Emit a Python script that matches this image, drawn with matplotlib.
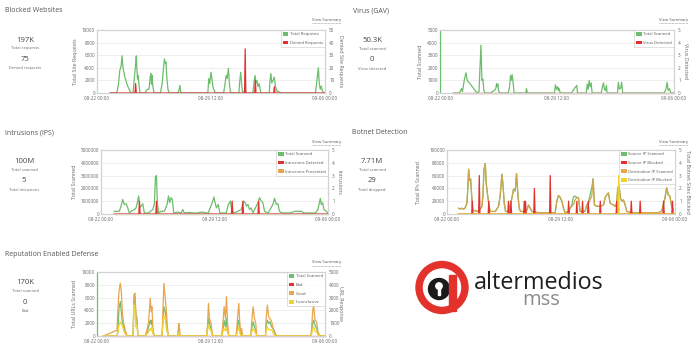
import numpy as np
import matplotlib
matplotlib.use("Agg")
import matplotlib.pyplot as plt
from matplotlib.patches import Patch, Circle, Rectangle

plt.rcParams['font.family'] = ['Open Sans', 'DejaVu Sans']

# ---------------- data (hours since 08-22 00:00, value) ----------------
X_TICKS = [0, 180, 360]
X_LABELS = ['08-22 00:00', '08-29 12:00', '09-06 00:00']

blocked_total = [(21,0),(30,0),(32,300),(34,1500),(36,3600),(38,4200),(39.5,5900),(41,4000),(44,2500),(48,1200),(52,300),(54,0),
    (57,0),(59,2500),(61,4500),(62,5900),(63,3800),(64,2200),(65,2800),(66,1500),(68,0),
    (76,0),(78,400),(80,600),(82,600),(84,2500),(85,3100),(86,1400),(87,2800),(88,1200),(90,0),
    (100,0),(103,1500),(105,4000),(106.5,5400),(108,4700),(109,4900),(110,2800),(112,600),(114,0),
    (127,0),(129,300),(131,1200),(132,200),(134,0),
    (175,0),(176.5,2300),(178,1500),(180,3300),(182,1800),(183.5,800),(186,200),(189,0),
    (200,0),(202,1400),(204,2800),(205.5,2300),(207.5,3900),(209,1500),(210.5,300),(212,0),
    (224,0),(225.5,2000),(227,3300),(228.5,1200),(230,0),(232,0),(233,500),(234.5,0),
    (246,0),(248,1800),(249.5,2800),(251,1600),(252.5,2000),(254,1000),(256,1500),(257.5,600),(259,0),
    (272,0),(273,1800),(274.5,3100),(276,1600),(278,2000),(280,2500),(282,900),(284,300),(287,200),(291,0),
    (345,0),(347,1800),(349.5,4000),(351,1500),(352.5,600),(354,1100),(356,300),(358,0),(360,0)]
blocked_denied_peaks = [(61.5,7.5),(233.7,35),(249.6,10),(280,5)]

virus_total = [(20.6,0),(30,0),(33,350),(34.5,100),(36,600),(38,1200),(40,1600),(41.5,1100),(43,900),(44.5,850),(57,0),(60,100),(63,3800),(64.5,1000),(66,1100),(67.5,200),(69,0),
    (78,0),(80,100),(84,200),(86,400),(87,750),(88,500),(89,700),(90,200),(92,0),
    (105,0),(107,500),(108.5,1400),(110,1000),(111,1450),(112.5,800),(114,0),
    (132,0),(133,350),(134.5,0),
    (176,0),(177.5,650),(179,300),(180.5,500),(182,200),(183,400),(185,0),
    (202,0),(205,200),(207,400),(209,500),(210.5,600),(211.5,0),
    (225,0),(226.5,700),(228,300),(229.5,1000),(231,500),(232.5,800),(234,0),
    (248,0),(250,500),(251.5,800),(253,300),(254.5,200),(256,600),(257,0),
    (273,0),(274.5,850),(276,300),(278,400),(279.5,850),(281,0),
    (345,0),(347.5,300),(349.5,850),(351,200),(353,350),(355,0),(360,0)]
virus_detected = [(20.6,0),(360,0)]

ips_total = [(21,213e3),(29,213e3),(31.8,612e3),(34.4,1.14e6),(37,745e3),(39.7,800e3),(42.4,479e3),(45,80e3),(47.6,213e3),(53,346e3),
    (55.6,479e3),(58.2,1.01e6),(59.8,1.41e6),(61.4,479e3),(63.5,612e3),(66.2,800e3),(68.8,80e3),(75,80e3),(82,346e3),(84.7,800e3),
    (86.3,2.87e6),(87.9,3.0e6),(89.5,745e3),(91.6,80e3),(95.3,213e3),(100.6,213e3),(104.8,745e3),(107,1.41e6),(109,878e3),(111,1.28e6),
    (113,1.14e6),(115.4,80e3),(122,150e3),(127,80e3),(129.7,346e3),(132,80e3),(140,120e3),(150,60e3),(160,150e3),(170,60e3),
    (177.3,1.01e6),(179,1.33e6),(181,878e3),(183,479e3),(186,745e3),(188.5,80e3),(198.5,80e3),(202,745e3),(205.4,1.01e6),(207.5,213e3),
    (211.6,80e3),(222.3,346e3),(226,1.01e6),(228.7,878e3),(230.8,612e3),(233,745e3),(235.6,346e3),(238,479e3),(240.9,80e3),
    (248.8,878e3),(251.5,1.28e6),(254,1.01e6),(256.7,878e3),(259.4,213e3),(265,80e3),(272.6,745e3),(275.3,1.22e6),(278,745e3),
    (280.6,800e3),(283,213e3),(287,80e3),(300,80e3),(307,213e3),(317.6,213e3),(322,80e3),(340,80e3),(344,346e3),(347.8,1.22e6),
    (349.4,745e3),(351.5,878e3),(353.6,346e3),(357.3,213e3),(360,80e3)]
ips_detected_peaks = [(61,1),(88,1),(208,1),(225,1),(250,1)]
ips_prevented = [(21,0),(360,0)]

bot_src_scanned = [(18.4,9000),(21,8000),(23.6,9000),(26.3,7500),(28.9,10000),(31.5,17000),(32.6,36000),(34.2,70000),(35.7,52000),(37.3,55000),
    (38.9,30000),(40.5,6000),(44.7,5000),(49.9,4000),(55.2,12000),(56.8,30000),(58.3,68000),(60.4,79000),(62,47000),(64.1,30000),
    (66.2,14000),(68.3,4000),(76.2,4000),(81.5,12000),(84.1,30000),(86.7,62000),(88.3,47000),(90.4,17000),(92.5,4000),(97.2,4000),
    (102.5,25000),(105.1,39000),(107.7,36000),(109.8,63000),(111.9,30000),(114,9000),(116.1,4000),(123.5,4000),(126.1,6000),
    (128.7,14000),(131.4,9000),(134,4000),(144.5,2000),(170.8,2000),(173.4,20000),(176,29000),(178.7,26000),(181.3,20000),
    (183.9,9000),(186.5,2000),(191.8,4000),(194.4,9000),(197,14000),(199.7,27000),(202.3,28000),(204.9,26000),(207.6,25000),
    (210.2,4000),(218,4000),(220.7,14000),(223.3,17000),(225.9,30000),(228.6,41000),(230.7,55000),(232.8,14000),(236.5,12000),
    (241.7,12000),(247,14000),(249.6,25000),(252.2,30000),(254.9,33000),(257.5,17000),(262.7,14000),(265.4,12000),(268,17000),
    (269.6,41000),(271.7,44000),(273.8,25000),(275.9,20000),(278.5,22000),(281.1,15000),(283.8,4000),(291.6,2000),(333.7,2000),
    (338.9,4000),(344.2,25000),(346.8,41000),(349.4,30000),(352,28000),(354.7,12000),(357.3,6000)]
bot_dst_scanned = [(18.4,9000),(21,8000),(23.6,9000),(26.3,7500),(28.9,10000),(31.5,17000),(32.6,36000),(34.2,70000),(35.7,52000),(37.3,55000),
    (38.9,30000),(40.5,6000),(44.7,5000),(49.9,4000),(55.2,12000),(56.8,30000),(58.3,68000),(60.4,79000),(62,47000),(64.1,30000),
    (66.2,14000),(68.3,4000),(76.2,4000),(81.5,12000),(84.1,30000),(86.7,62000),(88.3,47000),(90.4,17000),(92.5,4000),(97.2,4000),
    (102.5,25000),(105.1,39000),(107.7,36000),(109.8,63000),(111.9,30000),(114,9000),(116.1,4000),(123.5,4000),(126.1,6000),
    (128.7,14000),(131.4,9000),(134,4000),(144.5,2000),(170.8,2000),(173.4,20000),(176,29000),(178.7,26000),(181.3,20000),
    (183.9,9000),(186.5,2000),(191.8,4000),(194.4,9000),(197,12000),(199.7,15000),(202.3,22000),(204.9,26000),(207.6,25000),
    (210.2,4000),(218,4000),(220.7,14000),(223.3,17000),(225.9,22000),(228.6,28000),(230.7,55000),(232.8,14000),(236.5,12000),
    (241.7,12000),(247,14000),(249.6,25000),(252.2,30000),(254.9,33000),(257.5,17000),(262.7,14000),(265.4,12000),(268,17000),
    (269.6,41000),(271.7,44000),(273.8,25000),(275.9,20000),(278.5,22000),(281.1,15000),(283.8,4000),(291.6,2000),(333.7,2000),
    (338.9,4000),(344.2,25000),(346.8,41000),(349.4,30000),(352,28000),(354.7,12000),(357.3,6000)]
bot_src_blocked_peaks = [(40.5,1),(51.5,3),(65.7,1),(97.2,1),(101.4,1),(122,1),(124.5,1),(138,2),(163,3),(191.8,1),(205,1),
    (214,1),(223,1),(241.7,1),(268,1),(290.6,1),(304.8,1),(341.6,1),(355.8,1)]
bot_dst_blocked_peaks = [(270.6,3)]

rep_total = [(10,0),(31.5,0),(33.1,900),(34.7,4316),(36.8,5370),(38.4,3790),(39.9,2210),(42,1420),(44.7,600),(47.3,0),
    (56.8,0),(58.3,5370),(59.9,6160),(61.5,2740),(63,2470),(64.6,0),(76.2,0),(78.8,400),(81.5,1400),(84,2470),(85.7,1800),
    (86.7,2470),(88.3,600),(90.4,0),(102.5,0),(104,2000),(105.6,4580),(107.7,3790),(109.3,2740),(110.9,800),(112.5,0),
    (127.2,0),(129.3,1000),(130.3,500),(131.4,0),(173,0),(174.5,1400),(176,2740),(177.6,1950),(179.7,1200),(181.8,200),(183,0),
    (197,0),(198.6,1000),(200.7,2470),(202.8,1400),(204.4,2740),(206,800),(208.1,0),(219.5,0),(220.7,500),(222.3,1800),
    (223.9,2470),(225.4,1200),(227,0),(228.6,600),(229.5,0),(243,0),(244.3,1200),(246.5,2210),(248.6,1400),(250.7,900),(252.2,0),
    (266,0),(267,1700),(269,2470),(271,1950),(273,2210),(275.9,1400),(278.5,1160),(281,500),(283.8,0),(338,0),(339,1000),
    (340.5,1950),(342,2470),(344.2,1680),(346.8,1200),(348.9,300),(352,0),(360,0)]
rep_bad = [(10,0),(360,0)]
rep_good = [(10,0),(31.5,450),(33.1,2160),(34.7,3480),(36.8,4130),(38.4,3480),(39.9,1900),(42,980),(44.7,450),(47.3,0),
    (56.8,0),(57.5,300),(58.3,3210),(59.9,3340),(61.5,1630),(63,1500),(64.6,0),
    (76.2,0),(78.8,450),(81.5,1100),(84,2950),(85.7,1900),(86.7,2290),(88.3,580),(90.4,0),
    (102.5,0),(103,300),(104,1900),(105.6,4130),(107.7,2950),(109.3,2160),(110.9,840),(112.5,0),
    (127.2,0),(129.3,975),(130.3,580),(131.4,0),
    (173,0),(174.5,840),(176,2550),(177.6,1370),(179.7,1100),(181.8,315),(183,0),
    (197,0),(198.6,840),(200.7,2290),(202.8,1370),(204.4,3080),(206,1100),(208.1,0),
    (219.5,0),(220.7,580),(222.3,1630),(223.9,2550),(225.4,1100),(227,0),(228.6,580),(229.5,0),
    (243,0),(244.3,1100),(246.5,2290),(248.6,1370),(250.7,975),(252.2,0),
    (266,0),(267,1370),(269,2420),(271,1500),(273,1370),(275.9,1100),(278.5,450),(281,185),(283.8,0),
    (338,0),(339,710),(340.5,1900),(342,2470),(344.2,1240),(346.8,1100),(348.9,315),(352,0),(360,0)]
rep_inconclusive = [(10,0),(31.5,0),(33.1,300),(34.7,840),(36.8,1100),(38.4,900),(39.9,840),(42,450),(44.7,150),(47.3,0),
    (56.8,0),(58.3,2420),(59.9,2160),(61.5,710),(63,840),(64.6,0),
    (76.2,0),(81.5,300),(84,580),(85.7,400),(86.7,700),(88.3,200),(90.4,0),
    (102.5,0),(104,900),(105.6,1630),(107.7,1240),(109.3,710),(110.9,300),(112.5,0),
    (127.2,0),(129.3,300),(131.4,0),
    (173,0),(174.5,400),(176,840),(177.6,600),(179.7,450),(181.8,100),(183,0),
    (197,0),(198.6,300),(200.7,580),(202.8,400),(204.4,710),(206,300),(208.1,0),
    (219.5,0),(222.3,400),(223.9,710),(225.4,300),(227,0),
    (243,0),(244.3,300),(246.5,580),(248.6,400),(250.7,200),(252.2,0),
    (266,0),(267,400),(269,710),(271,500),(273,500),(275.9,450),(278.5,200),(281,0),
    (338,0),(340.5,500),(342,710),(344.2,400),(346.8,300),(348.9,100),(352,0),(360,0)]

# ---------------- styling ----------------
W, H = 700, 357
GREEN = '#6cbd6c'
RED = '#e0312f'
ORANGE = '#e9a54e'
OLIVE = '#d2a548'
YELLOW = '#f3d42c'
TXT = '#666666'
DARK = '#4a4a4a'

fig = plt.figure(figsize=(7, 3.57), dpi=100)
bg = fig.add_axes([0, 0, 1, 1])
bg.set_xlim(0, W)
bg.set_ylim(H, 0)
bg.axis('off')


def pts(points):
    h, v = zip(*points)
    return np.array(h, float), np.array(v, float)


def spikes(start, peaks):
    hours = np.arange(start, 361, 1.0)
    vals = np.zeros_like(hours)
    for ph, pv in peaks:
        vals[np.argmin(np.abs(hours - ph))] = pv
    return hours, vals


def panel(box, ymax_l, step_l, ymax_r, step_r, lab_l, lab_r, lab_lx, lab_rx,
          left, right, legend, spine_left=None, rpad=3.0, lpad=1.5):
    l, t, r, b = box
    ax = fig.add_axes([l / W, 1 - b / H, (r - l) / W, (b - t) / H])
    ax2 = ax.twinx()
    for (h, v), c in left:
        ax.plot(h, v, color=c, lw=0.9, solid_joinstyle='round', clip_on=False)
    for (h, v), c in right:
        ax2.plot(h, v, color=c, lw=0.9, solid_joinstyle='round', clip_on=False)
    ax.set_xlim(0, 360)
    ax.set_ylim(0, ymax_l)
    ax2.set_ylim(0, ymax_r)
    ax.set_yticks(np.arange(0, ymax_l + 1, step_l))
    ax.set_yticklabels([str(int(v)) for v in np.arange(0, ymax_l + 1, step_l)])
    ax2.set_yticks(np.arange(0, ymax_r + 1, step_r))
    ax2.set_yticklabels([str(int(v)) for v in np.arange(0, ymax_r + 1, step_r)])
    ax.set_xticks(X_TICKS)
    ax.set_xticklabels(X_LABELS)
    ax.grid(axis='y', color='#e9e9e9', lw=0.5)
    ax.set_axisbelow(True)
    for a in (ax, ax2):
        for s in a.spines.values():
            s.set_color('#d2d2d2')
            s.set_linewidth(0.8)
        a.tick_params(length=0, labelsize=3.3, labelcolor=TXT)
    ax.tick_params(axis='y', pad=lpad)
    ax.tick_params(axis='x', pad=2.5)
    ax2.tick_params(axis='y', pad=rpad)
    if spine_left:
        ax.spines['left'].set_color(spine_left)
        ax2.spines['left'].set_color(spine_left)
    ym = (t + b) / 2
    bg.text(lab_lx, ym, lab_l, rotation=90, ha='center', va='center', fontsize=3.8, color=TXT)
    bg.text(lab_rx, ym, lab_r, rotation=270, ha='center', va='center', fontsize=3.8, color=TXT)
    handles = [Patch(facecolor=c, edgecolor='none', label=n) for n, c in legend]
    leg = ax2.legend(handles=handles, loc='upper right', bbox_to_anchor=(1, 1), borderaxespad=0,
                     fontsize=3.0, frameon=True, fancybox=False, handlelength=1.3, handleheight=1.0,
                     handletextpad=0.4, labelspacing=1.05, borderpad=0.5)
    leg.get_frame().set_edgecolor('#c8c8c8')
    leg.get_frame().set_linewidth(0.5)
    for txt in leg.get_texts():
        txt.set_color('#555555')
    return ax, ax2


def header(x, y, title):
    bg.text(x, y, title, ha='left', va='center', fontsize=5, color='#555555')


def stats(cx, y0, big1, small1, big2, small2):
    bg.text(cx, y0, big1, ha='center', va='center', fontsize=5.6, color=DARK)
    bg.text(cx, y0 + 8.5, small1, ha='center', va='center', fontsize=3, color=TXT)
    bg.text(cx, y0 + 19.5, big2, ha='center', va='center', fontsize=5.6, color=DARK)
    bg.text(cx, y0 + 28.5, small2, ha='center', va='center', fontsize=3, color=TXT)


def view_summary(xr, y):
    bg.text(xr, y, 'View Summary', ha='right', va='center', fontsize=3, color='#555555')
    bg.plot([xr - 29, xr], [y + 3, y + 3], color='#888888', lw=0.5, ls=(0, (1, 1)))


# Panel 1: Blocked Websites
header(5, 10.5, 'Blocked Websites')
stats(25, 40, '197K', 'Total requests', '75', 'Denied requests')
view_summary(341, 20)
panel((97, 30, 325, 93), 10000, 2000, 50, 10, 'Total Site Requests', 'Denied Site Requests', 75, 340,
      [(pts(blocked_total), GREEN)],
      [(spikes(21, blocked_denied_peaks), RED)],
      [('Total Requests', GREEN), ('Denied Requests', RED)])

# Panel 2: Virus (GAV)
header(353, 10.5, 'Virus (GAV)')
stats(372, 40, '50.3K', 'Total scanned', '0', 'Virus detected')
view_summary(688, 20)
panel((440, 30, 674, 93), 5000, 1000, 5, 1, 'Total Scanned', 'Virus Detected', 420, 686,
      [(pts(virus_total), GREEN)],
      [(pts(virus_detected), RED)],
      [('Total Scanned', GREEN), ('Virus Detected', RED)], spine_left=GREEN)

# Panel 3: Intrusions (IPS)
header(5, 132.5, 'Intrusions (IPS)')
stats(24, 161.5, '100M', 'Total scanned', '5', 'Total intrusions')
view_summary(341, 141.5)
panel((101, 150, 328, 214), 5000000, 1000000, 5, 1, 'Total Scanned', 'Intrusions', 74, 339,
      [(pts(ips_total), GREEN)],
      [(spikes(21, ips_detected_peaks), RED), (pts(ips_prevented), OLIVE)],
      [('Total Scanned', GREEN), ('Intrusions Detected', RED), ('Intrusions Prevented', ORANGE)])

# Panel 4: Botnet Detection
header(352, 132.5, 'Botnet Detection')
stats(372, 161.5, '7.71M', 'Total scanned', '29', 'Total dropped')
view_summary(688, 141.5)
panel((447, 150, 675, 214), 100000, 20000, 5, 1, 'Total IPs Scanned', 'Total Botnet Sites Blocked', 419, 687,
      [(pts(bot_src_scanned), GREEN), (pts(bot_dst_scanned), OLIVE)],
      [(spikes(18, bot_src_blocked_peaks), RED), (spikes(18, bot_dst_blocked_peaks), YELLOW)],
      [('Source IP Scanned', GREEN), ('Source IP Blocked', RED),
       ('Destination IP Scanned', ORANGE), ('Destination IP Blocked', YELLOW)])

# Panel 5: Reputation Enabled Defense
header(5, 254, 'Reputation Enabled Defense')
stats(25, 282.5, '170K', 'Total scanned', '0', 'Bad')
view_summary(341, 262.5)
panel((97, 272, 325, 336), 10000, 2000, 5000, 1000, 'Total URLs Scanned', 'URL Response', 74, 341,
      [(pts(rep_total), GREEN)],
      [(pts(rep_bad), RED), (pts(rep_good), ORANGE), (pts(rep_inconclusive), YELLOW)],
      [('Total Scanned', GREEN), ('Bad', RED), ('Good', ORANGE), ('Inconclusive', YELLOW)],
      spine_left=GREEN)

# Logo
LRED = '#e2322b'
bg.add_patch(Circle((442, 287.5), 26, color=LRED, zorder=3))
bg.add_patch(Circle((442, 287.5), 18.5, color='white', zorder=4))
bg.add_patch(Circle((439, 289), 10.5, color='#1b1b1b', zorder=5))
bg.add_patch(Rectangle((449, 275), 7, 36, color=LRED, zorder=5))
bg.add_patch(Circle((439, 286), 3.2, color='white', zorder=6))
bg.add_patch(Rectangle((437.6, 286), 2.8, 8.5, color='white', zorder=6))
bg.text(474, 289, 'altermedios', ha='left', va='baseline', fontsize=16.8, color='#1e1e1e', zorder=5)
bg.text(522, 305, 'mss', ha='left', va='baseline', fontsize=14.5, color='#8c8c8c', zorder=5)

fig.savefig('out.png', dpi=100)
